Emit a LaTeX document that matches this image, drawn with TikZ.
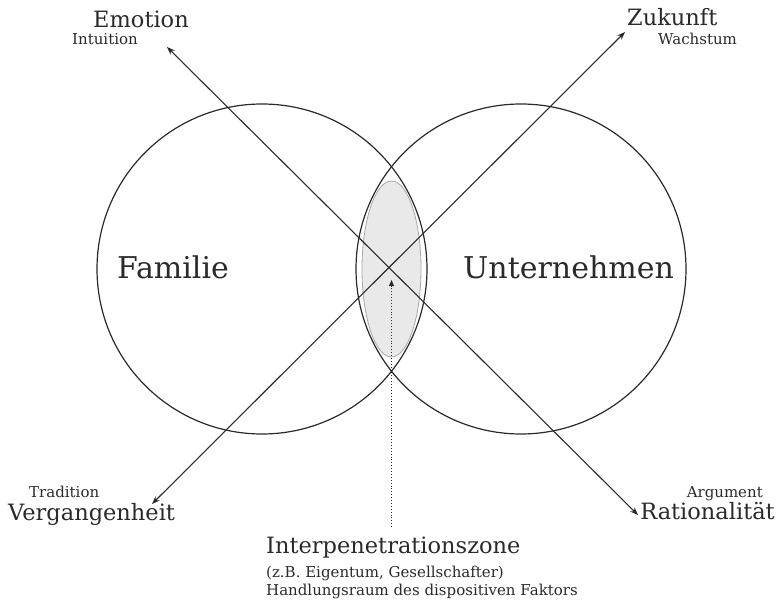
\documentclass[tikz,border=0pt]{standalone}
\usepackage{fontspec}
\setmainfont{DejaVu Serif}
\usetikzlibrary{arrows.meta,shapes.geometric}
\definecolor{ink}{HTML}{2A2A2A}
\definecolor{lensfill}{HTML}{E9E9E9}
\definecolor{lensline}{HTML}{A8A8A8}
\begin{document}
\begin{tikzpicture}[x=1pt,y=-1pt,
  ring/.style={draw=ink,line width=1.2pt},
  axis/.style={draw=ink,line width=1.1pt,{Stealth[length=8pt,width=6pt]}-{Stealth[length=8pt,width=6pt]}},
  pointer/.style={draw=ink,line width=0.9pt,dotted,-{Triangle[length=6pt,width=5pt]}},
  big/.style={inner sep=0pt,text=ink,font=\fontsize{22.5}{26}\selectfont},
  huge/.style={inner sep=0pt,text=ink,font=\fontsize{30}{34}\selectfont},
  small/.style={inner sep=0pt,text=ink,font=\fontsize{15}{18}\selectfont},
  lensstyle/.style={draw=lensline,line width=0.8pt,fill=lensfill}]
\useasboundingbox (0,0) rectangle (779,604);
% lens zone
\node[lensstyle,ellipse,minimum width=59pt,minimum height=176pt,inner sep=0pt] (lens) at (391.5,269) {};
% circles
\node[ring,circle,minimum size=330pt,inner sep=0pt] (fam) at (262,269) {};
\node[ring,circle,minimum size=330pt,inner sep=0pt] (unt) at (521,269) {};
% labels
\node[huge,anchor=base west] (familie) at (117,278) {Familie};
\node[huge,anchor=base west] (unternehmen) at (463,278) {Unternehmen};
\node[big,anchor=base west] (emotion) at (93,28) {Emotion};
\node[small,anchor=base west] (intuition) at (72,45) {Intuition};
\node[big,anchor=base west] (zukunft) at (627,26) {Zukunft};
\node[small,anchor=base west] (wachstum) at (658,45) {Wachstum};
\node[small,anchor=base west] (tradition) at (29,497) {Tradition};
\node[big,anchor=base west] (vergangenheit) at (8,520) {Vergangenheit};
\node[small,anchor=base east] (argument) at (763,497) {Argument};
\node[big,anchor=base east] (rationalitaet) at (775,519) {Rationalität};
\node[big,anchor=base west] (zonelabel) at (266,553) {Interpenetrationszone};
\node[small,anchor=base west] (bsp) at (266,577) {(z.B. Eigentum, Gesellschafter)};
\node[small,anchor=base west] (handl) at (266,595) {Handlungsraum des dispositiven Faktors};
% axis end points
\coordinate (eTip) at (167,47);
\coordinate (rTip) at (638,515);
\coordinate (zTip) at (625,32);
\coordinate (vTip) at (152,504);
\coordinate (pStart) at (391.5,527);
\coordinate (pTip) at (391.5,280);
% axes
\draw[axis] (eTip) -- (rTip);
\draw[axis] (vTip) -- (zTip);
\draw[pointer] (pStart) -- (pTip);
\end{tikzpicture}
\end{document}
